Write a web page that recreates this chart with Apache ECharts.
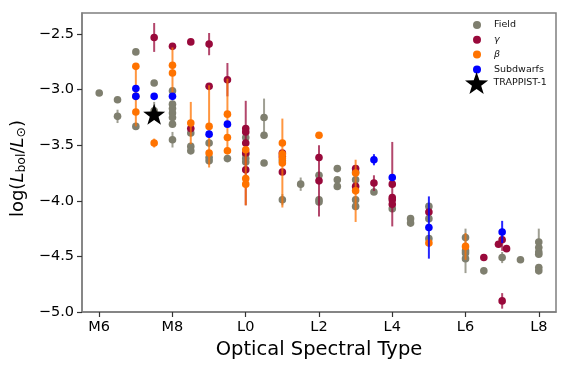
<!DOCTYPE html>
<html>
<head>
<meta charset="utf-8">
<script src="https://cdn.jsdelivr.net/npm/echarts@6/dist/echarts.min.js"></script>
<style>
  html, body { margin: 0; padding: 0; background: #fff; }
  #chart { width: 570px; height: 368px; }
</style>
</head>
<body>
<div id="chart"></div>
<script>
// spectral type as number: M6 = 6 ... L0 = 10 ... L8 = 18
// each point: [spt, log(Lbol/Lsun), error]
var fieldPts = [
  [6.0, -3.03, 0], [6.5, -3.09, 0], [6.5, -3.24, 0.06], [7.0, -2.66, 0], [7.0, -3.33, 0],
  [7.5, -2.94, 0], [7.5, -3.19, 0.08], [8.0, -3.01, 0], [8.0, -3.13, 0], [8.0, -3.17, 0],
  [8.0, -3.21, 0], [8.0, -3.25, 0], [8.0, -3.31, 0], [8.0, -3.45, 0.07], [8.5, -3.39, 0],
  [8.5, -3.51, 0], [8.5, -3.55, 0], [9.0, -3.48, 0], [9.0, -3.61, 0], [9.0, -3.64, 0],
  [9.5, -3.62, 0], [10.0, -3.43, 0], [10.0, -3.58, 0], [10.0, -3.62, 0], [10.0, -3.65, 0],
  [10.5, -3.25, 0.17], [10.5, -3.41, 0], [10.5, -3.66, 0], [11.0, -3.99, 0.05], [11.0, -3.64, 0],
  [11.5, -3.85, 0.06], [12.0, -3.77, 0], [12.0, -3.99, 0], [12.0, -4.01, 0], [12.5, -3.71, 0],
  [12.5, -3.81, 0], [12.5, -3.87, 0], [13.0, -3.74, 0], [13.0, -3.81, 0], [13.0, -3.99, 0],
  [13.0, -4.05, 0], [13.5, -3.92, 0], [14.0, -4.07, 0], [14.5, -4.16, 0], [14.5, -4.20, 0],
  [15.0, -4.05, 0], [15.0, -4.16, 0], [15.0, -4.34, 0], [16.0, -4.33, 0], [16.0, -4.45, 0.2],
  [16.0, -4.47, 0], [16.0, -4.52, 0], [16.5, -4.63, 0], [17.0, -4.51, 0.05], [17.5, -4.53, 0],
  [18.0, -4.37, 0.12], [18.0, -4.42, 0], [18.0, -4.46, 0], [18.0, -4.48, 0], [18.0, -4.60, 0],
  [18.0, -4.63, 0]
];
var gammaPts = [
  [7.5, -2.53, 0.13], [8.0, -2.61, 0], [8.5, -2.57, 0], [9.0, -2.59, 0.1], [8.5, -3.35, 0],
  [9.0, -2.97, 0], [9.5, -2.91, 0.15], [10.0, -3.35, 0], [10.0, -3.38, 0], [10.0, -3.57, 0.47],
  [10.0, -3.48, 0], [10.0, -3.72, 0], [11.0, -3.57, 0], [11.0, -3.60, 0], [11.0, -3.74, 0],
  [12.0, -3.61, 0], [12.0, -3.82, 0.32], [13.0, -3.71, 0], [13.0, -3.87, 0], [13.5, -3.84, 0.07],
  [14.0, -3.85, 0.38], [14.0, -3.97, 0], [14.0, -3.99, 0], [14.0, -4.03, 0], [15.0, -4.10, 0],
  [16.5, -4.51, 0], [16.9, -4.39, 0], [17.0, -4.35, 0.1], [17.12, -4.43, 0], [17.0, -4.90, 0.07]
];
var betaPts = [
  [7.0, -2.79, 0], [7.0, -3.06, 0.27], [7.0, -3.20, 0], [7.5, -3.48, 0.04], [8.0, -2.78, 0],
  [8.0, -2.85, 0.23], [8.5, -3.30, 0.19], [9.0, -3.33, 0.37], [9.0, -3.57, 0], [9.5, -3.22, 0.32],
  [9.5, -3.43, 0], [9.5, -3.55, 0], [10.0, -3.54, 0], [10.0, -3.80, 0.24], [10.0, -3.85, 0],
  [11.0, -3.48, 0], [11.0, -3.58, 0], [11.0, -3.62, 0], [11.0, -3.66, 0.4], [12.0, -3.41, 0],
  [13.0, -3.75, 0], [13.0, -3.91, 0.28], [15.0, -4.38, 0], [16.0, -4.41, 0.12]
];
var subdwarfPts = [
  [7.0, -2.99, 0], [7.0, -3.06, 0], [7.5, -3.06, 0], [8.0, -3.06, 0], [9.0, -3.40, 0],
  [9.5, -3.31, 0], [13.5, -3.63, 0.05], [14.0, -3.79, 0], [15.0, -4.24, 0.28], [17.0, -4.28, 0.1]
];
var trappist = [[7.5, -3.22]];

var xTickVals = [6, 8, 10, 12, 14, 16, 18];
var xTickLabels = ['M6', 'M8', 'L0', 'L2', 'L4', 'L6', 'L8'];
var yTickVals = [-5.0, -4.5, -4.0, -3.5, -3.0, -2.5];

var FONT = 'DejaVu Sans';
var starPath = 'path://M0,-10 L2.35,-3.24 L9.51,-3.09 L3.8,1.24 L5.88,8.09 L0,4 L-5.88,8.09 L-3.8,1.24 L-9.51,-3.09 L-2.35,-3.24 Z';

function pointRenderer(color, barColor) {
  return function (params, api) {
    var x = api.value(0), y = api.value(1), e = api.value(2);
    var c = api.coord([x, y]);
    var kids = [];
    if (e > 0) {
      var t = api.coord([x, y + e]);
      var b = api.coord([x, y - e]);
      kids.push({
        type: 'line',
        shape: { x1: c[0], y1: t[1], x2: c[0], y2: b[1] },
        style: { stroke: barColor, lineWidth: 2 }
      });
    }
    kids.push({
      type: 'circle',
      shape: { cx: c[0], cy: c[1], r: 3.8 },
      style: { fill: color }
    });
    return { type: 'group', children: kids };
  };
}

function group(name, data, color, barColor) {
  return {
    name: name,
    type: 'custom',
    data: data,
    itemStyle: { color: color },
    renderItem: pointRenderer(color, barColor),
    clip: true,
    animation: false
  };
}

var chart = echarts.init(document.getElementById('chart'));
chart.setOption({
  animation: false,
  grid: {
    left: 82, right: 14, top: 13, bottom: 56,
    show: true, borderColor: '#7f7f7f', borderWidth: 1.5
  },
  legend: [
    {
      orient: 'vertical',
      left: 473, top: 19, padding: 0,
      itemWidth: 24, itemHeight: 8, itemGap: 2.8,
      textStyle: { fontFamily: FONT, fontSize: 9.5, color: '#111', lineHeight: 12,
        rich: { g: { fontFamily: FONT, fontSize: 9.5, fontStyle: 'italic', color: '#111' } } },
      formatter: function (n) { return (n === 'γ' || n === 'β') ? '{g|' + n + '}' : n; },
      data: [
        { name: 'Field', icon: 'circle' },
        { name: 'γ', icon: 'circle' },
        { name: 'β', icon: 'circle' },
        { name: 'Subdwarfs', icon: 'circle' }
      ],
      selectedMode: false
    },
    {
      left: 465, top: 72, padding: 0,
      itemWidth: 24, itemHeight: 22,
      textStyle: { fontFamily: FONT, fontSize: 9.5, color: '#111' },
      data: [{ name: 'TRAPPIST-1', icon: starPath, itemStyle: { color: '#000', opacity: 1 } }],
      selectedMode: false
    }
  ],
  xAxis: {
    type: 'value', min: 5.53, max: 18.47,
    splitLine: { show: false },
    axisLine: { show: true, lineStyle: { color: '#7f7f7f', width: 1.5 } },
    axisTick: { show: true, customValues: xTickVals, length: 5, lineStyle: { color: '#333', width: 1.2 } },
    axisLabel: {
      customValues: xTickVals, margin: 8,
      fontFamily: FONT, fontSize: 14.5, color: '#000',
      formatter: function (v) { return xTickLabels[xTickVals.indexOf(Math.round(v))]; }
    },
    name: 'Optical Spectral Type',
    nameLocation: 'middle', nameGap: 26,
    nameTextStyle: { fontFamily: FONT, fontSize: 19.5, color: '#000' }
  },
  yAxis: {
    type: 'value', min: -5.0, max: -2.31,
    splitLine: { show: false },
    axisLine: { show: true, lineStyle: { color: '#7f7f7f', width: 1.5 } },
    axisTick: { show: true, customValues: yTickVals, length: 5, lineStyle: { color: '#333', width: 1.2 } },
    axisLabel: {
      customValues: yTickVals, margin: 8,
      fontFamily: FONT, fontSize: 14.5, color: '#000',
      formatter: function (v) { return v.toFixed(1).replace('-', '\u2212'); }
    },
    name: 'log({i|L}{s|bol}/{i|L}{s|\u2299})',
    nameLocation: 'middle', nameGap: 49, nameRotate: 90,
    nameTextStyle: {
      fontFamily: FONT, fontSize: 18, color: '#000', padding: [0, 12, 0, 0],
      rich: {
        i: { fontFamily: FONT, fontSize: 18, fontStyle: 'italic', color: '#000' },
        s: { fontFamily: FONT, fontSize: 12.5, color: '#000', verticalAlign: 'bottom', padding: [6, 0, 0, 0] }
      }
    }
  },
  series: [
    group('Field', fieldPts, '#7f7f6f', 'rgba(127,127,111,0.75)'),
    group('γ', gammaPts, '#99093b', 'rgba(153,9,59,0.75)'),
    group('β', betaPts, '#ff7300', 'rgba(255,115,0,0.75)'),
    group('Subdwarfs', subdwarfPts, '#0000ff', 'rgba(0,0,255,0.85)'),
    {
      name: 'TRAPPIST-1',
      type: 'scatter',
      data: trappist,
      symbol: starPath,
      symbolSize: [22, 21],
      itemStyle: { color: '#000', opacity: 1 },
      z: 5
    }
  ]
});
</script>
</body>
</html>
